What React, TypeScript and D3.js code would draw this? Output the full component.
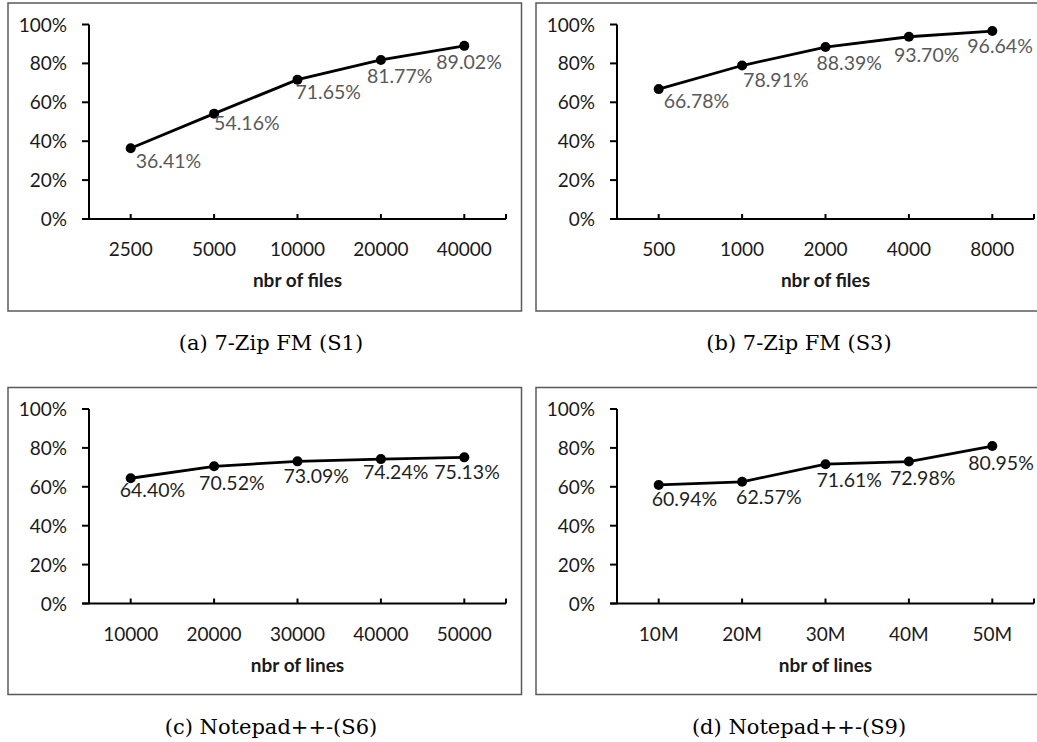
import * as d3 from 'd3';
import React from 'react';

// categories and values
const catsA = ['2500', '5000', '10000', '20000', '40000'];
const valsA = [36.41, 54.16, 71.65, 81.77, 89.02];
const catsB = ['500', '1000', '2000', '4000', '8000'];
const valsB = [66.78, 78.91, 88.39, 93.7, 96.64];
const catsC = ['10000', '20000', '30000', '40000', '50000'];
const valsC = [64.4, 70.52, 73.09, 74.24, 75.13];
const catsD = ['10M', '20M', '30M', '40M', '50M'];
const valsD = [60.94, 62.57, 71.61, 72.98, 80.95];
const yTicks = [0, 20, 40, 60, 80, 100];

// hand placed data label offsets (text left, baseline) from each point
const offA = [[5, 20], [0, 16], [-2, 19], [-14, 23], [-28, 23]];
const offB = [[5, 19], [1, 21], [-9, 23], [-15, 25], [-25, 22]];
const offC = [[-11, 19], [-15, 24], [-14, 22], [-18, 20], [-30, 22]];
const offD = [[-7, 21], [-6, 22], [-9, 23], [-19, 23], [-24, 24]];

const W = 1037;
const H = 742;
const font = 'Lato, "Open Sans", sans-serif';

type PanelProps = {
  x0: number; y0: number; x1: number; y1: number;
  cats: string[]; vals: number[]; offs: number[][];
  xTitle: string; caption: string; labelColor: string;
};

function Panel(p: PanelProps) {
  const left = p.x0 + 81;
  const right = left + 417;
  const top = p.y0 + 21.5;
  const bottom = p.y0 + 216;

  const x = d3.scaleBand<string>().domain(p.cats).range([left, right]).padding(0);
  const y = d3.scaleLinear().domain([0, 100]).range([bottom, top]);
  const cx = (c: string) => (x(c) as number) + x.bandwidth() / 2;

  const line = d3.line<number>()
    .x((_, i) => cx(p.cats[i]))
    .y(d => y(d));

  return (
    <g>
      <rect x={p.x0} y={p.y0} width={p.x1 - p.x0} height={p.y1 - p.y0}
        fill="white" stroke="#595959" strokeWidth={1.5} />
      {/* y axis */}
      <line x1={left} x2={left} y1={top} y2={bottom} stroke="black" strokeWidth={2} />
      {yTicks.map(t => (
        <g key={t}>
          <line x1={left - 7} x2={left} y1={y(t)} y2={y(t)} stroke="black" strokeWidth={2} />
          <text x={left - 22} y={y(t) + 7} textAnchor="end" fontFamily={font}
            fontSize={19} fill="#1a1a1a">{t + '%'}</text>
        </g>
      ))}
      {/* x axis */}
      <line x1={left - 7} x2={right} y1={bottom} y2={bottom} stroke="black" strokeWidth={2} />
      {p.cats.map(c => (
        <g key={c}>
          <line x1={cx(c)} x2={cx(c)} y1={bottom} y2={bottom - 5} stroke="black" strokeWidth={2} />
          <text x={cx(c)} y={bottom + 37} textAnchor="middle" fontFamily={font}
            fontSize={19} fill="#1a1a1a">{c}</text>
        </g>
      ))}
      <line x1={right} x2={right} y1={bottom} y2={bottom - 5} stroke="black" strokeWidth={2} />
      <text x={(left + right) / 2} y={bottom + 68} textAnchor="middle" fontFamily={font}
        fontSize={19} fontWeight="bold" fill="#1a1a1a">{p.xTitle}</text>
      {/* series */}
      <path d={line(p.vals) || ''} fill="none" stroke="black" strokeWidth={2.8} />
      {p.vals.map((v, i) => (
        <circle key={i} cx={cx(p.cats[i])} cy={y(v)} r={5} fill="black" />
      ))}
      {p.vals.map((v, i) => (
        <text key={'l' + i} x={cx(p.cats[i]) + p.offs[i][0]} y={y(v) + p.offs[i][1]}
          fontFamily={font} fontSize={19.5} fill={p.labelColor}>{v.toFixed(2) + '%'}</text>
      ))}
      <text x={left + 182} y={p.y1 + 39} textAnchor="middle"
        fontFamily='"DejaVu Serif", serif' fontSize={21} fill="black">{p.caption}</text>
    </g>
  );
}

export default function App() {
  return (
    <svg width={W} height={H} style={{ position: 'absolute', left: 0, top: 0, background: 'white' }}>
      <rect width={W} height={H} fill="white" />
      <Panel x0={8} y0={3} x1={521.5} y1={311} cats={catsA} vals={valsA} offs={offA}
        xTitle="nbr of files" caption="(a) 7-Zip FM (S1)" labelColor="#595959" />
      <Panel x0={536} y0={3} x1={1045} y1={311} cats={catsB} vals={valsB} offs={offB}
        xTitle="nbr of files" caption="(b) 7-Zip FM (S3)" labelColor="#595959" />
      <Panel x0={8} y0={387.5} x1={521.5} y1={694.5} cats={catsC} vals={valsC} offs={offC}
        xTitle="nbr of lines" caption="(c) Notepad++-(S6)" labelColor="#1f1f1f" />
      <Panel x0={536} y0={387.5} x1={1045} y1={694.5} cats={catsD} vals={valsD} offs={offD}
        xTitle="nbr of lines" caption="(d) Notepad++-(S9)" labelColor="#1f1f1f" />
    </svg>
  );
}
